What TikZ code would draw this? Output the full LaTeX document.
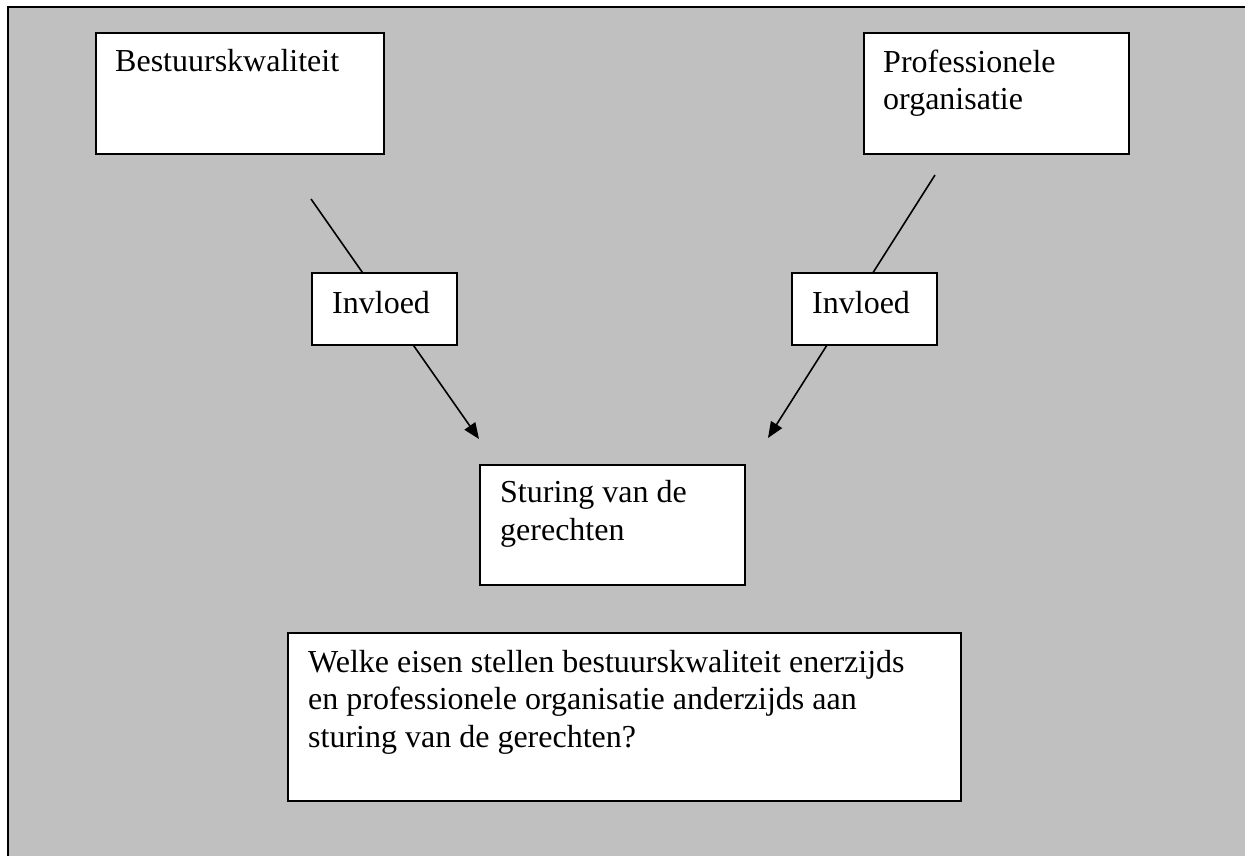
\documentclass[tikz,border=0pt]{standalone}
\usepackage{fontspec}
\setmainfont{Liberation Serif}
\usetikzlibrary{arrows.meta}
\definecolor{panelgrey}{HTML}{C0C0C0}
\tikzset{
  box/.style={draw=black, fill=white, line width=1.7pt, rectangle, inner sep=0pt, anchor=north west},
  txt/.style={inner sep=0pt, anchor=base west, align=left,
    font=\fontsize{32pt}{37.5pt}\selectfont},
  link/.style={draw=black, line width=1.6pt, -{Triangle[length=16pt, width=13pt]}},
}
\begin{document}
\begin{tikzpicture}[x=1pt, y=-1pt]
  \useasboundingbox (0,0) rectangle (1245,856);
  % grey panel with its top and left frame
  \fill[panelgrey] (8,7) rectangle (1245,856);
  \draw[line width=2.4pt] (8,856) -- (8,7) -- (1245,7);

  % influence connectors (drawn first, the label boxes sit on top)
  \coordinate (ltail) at (311,199);
  \coordinate (lhead) at (479,439);
  \coordinate (rtail) at (935,175);
  \coordinate (rhead) at (768,438);
  \draw[link] (ltail) -- (lhead);
  \draw[link] (rtail) -- (rhead);

  % boxes
  \node[box, minimum width=288pt, minimum height=121pt] (bk) at (95,32) {};
  \node[box, minimum width=265pt, minimum height=121pt] (po) at (863,32) {};
  \node[box, minimum width=145pt, minimum height=72pt] (invl) at (311,272) {};
  \node[box, minimum width=145pt, minimum height=72pt] (invr) at (791,272) {};
  \node[box, minimum width=265pt, minimum height=120pt] (st) at (479,464) {};
  \node[box, minimum width=673pt, minimum height=168pt] (vraag) at (287,632) {};

  % texts (base anchor sits on the last line of a multi-line text)
  \node[txt] (bkt) at ([xshift=20pt, yshift=-40pt]bk.north west) {Bestuurskwaliteit};
  \node[txt] (pot) at ([xshift=20pt, yshift=-78pt]po.north west) {Professionele\\organisatie};
  \node[txt] (invlt) at ([xshift=21pt, yshift=-41pt]invl.north west) {Invloed};
  \node[txt] (invrt) at ([xshift=21pt, yshift=-41pt]invr.north west) {Invloed};
  \node[txt] (stt) at ([xshift=21pt, yshift=-76pt]st.north west) {Sturing van de\\gerechten};
  \node[txt] (vraagt) at ([xshift=21pt, yshift=-115pt]vraag.north west)
    {Welke eisen stellen bestuurskwaliteit enerzijds\\en professionele organisatie anderzijds aan\\sturing van de gerechten?};
\end{tikzpicture}
\end{document}
